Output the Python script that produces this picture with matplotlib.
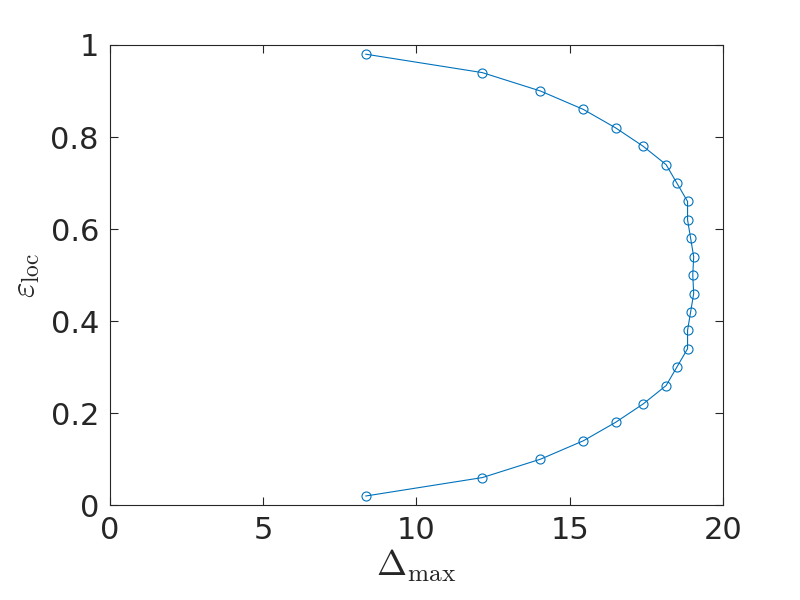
import matplotlib
matplotlib.use("Agg")
import matplotlib.pyplot as plt

# Delta_max vs eps_loc
eps_loc = [0.02, 0.06, 0.10, 0.14, 0.18, 0.22, 0.26, 0.30, 0.34, 0.38, 0.42, 0.46, 0.50,
           0.54, 0.58, 0.62, 0.66, 0.70, 0.74, 0.78, 0.82, 0.86, 0.90, 0.94, 0.98]
delta_max = [8.35, 12.15, 14.05, 15.45, 16.5, 17.4, 18.15, 18.5, 18.85, 18.85, 18.95, 19.05, 19.02,
             19.05, 18.95, 18.85, 18.85, 18.5, 18.15, 17.4, 16.5, 15.45, 14.05, 12.15, 8.35]

plt.rcParams["mathtext.fontset"] = "cm"
dark = "#262626"

fig = plt.figure(figsize=(8, 6), dpi=100)
ax = fig.add_axes([0.1375, 0.158, 0.766, 0.767])

ax.plot(delta_max, eps_loc, "-o", color="#0072BD", lw=0.8, ms=6.5,
        mfc="none", mew=0.8)

ax.set_xlim(0, 20)
ax.set_ylim(0, 1)
ax.set_xticks([0, 5, 10, 15, 20])
ax.set_yticks([0, 0.2, 0.4, 0.6, 0.8, 1])
ax.set_yticklabels(["0", "0.2", "0.4", "0.6", "0.8", "1"])
ax.tick_params(direction="in", top=True, right=True, length=6, width=0.8,
               labelsize=22, colors=dark, pad=8)
for s in ax.spines.values():
    s.set_color(dark)
    s.set_linewidth(0.8)

ax.set_xlabel(r"$\Delta_{\max}$", fontsize=26, color=dark, labelpad=2)
ax.set_ylabel(r"$\varepsilon_{\rm loc}$", fontsize=24, color=dark, labelpad=6)

fig.savefig("out.png", dpi=100)
